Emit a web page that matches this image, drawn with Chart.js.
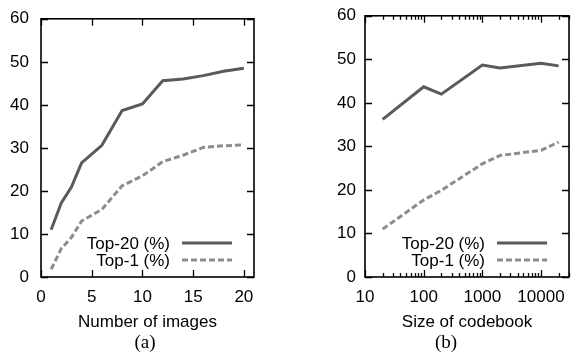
<!DOCTYPE html>
<html>
<head>
<meta charset="utf-8">
<script src="https://cdn.jsdelivr.net/npm/chart.js@4/dist/chart.umd.min.js"></script>
<style>
  body { margin: 0; background: #fff; width: 579px; height: 363px; position: relative; overflow: hidden; }
  canvas { position: absolute; top: 0; }
  #chartA { left: 0; }
  #chartB { left: 324px; }
  .cap { position: absolute; top: 331px; font-family: "Liberation Serif", "Times New Roman", serif; font-size: 19px; transform: translateX(-50%); }
</style>
</head>
<body>
<canvas id="chartA" width="270" height="340"></canvas>
<canvas id="chartB" width="255" height="340"></canvas>
<div class="cap" style="left:145px">(a)</div>
<div class="cap" style="left:446px">(b)</div>
<script>
// panel (a): number of images
const imagesX = [1, 2, 3, 4, 6, 8, 10, 12, 14, 16, 18, 20];
const imagesTop20 = [11.0, 17.2, 20.9, 26.5, 30.6, 38.7, 40.2, 45.6, 46.0, 46.8, 47.8, 48.5];
const imagesTop1 = [1.8, 6.6, 9.2, 13.0, 15.7, 21.2, 23.5, 26.8, 28.3, 30.1, 30.5, 30.7];
const imagesTicks = [0, 5, 10, 15, 20];

// panel (b): size of codebook
const codebookX = [20, 100, 200, 1000, 2000, 10000, 20000];
const codebookTop20 = [36.2, 43.7, 42.0, 48.7, 48.0, 49.1, 48.5];
const codebookTop1 = [11.0, 17.7, 19.9, 26.0, 27.9, 29.1, 31.0];
const codebookTicks = [10, 100, 1000, 10000];

const yTicks = [0, 10, 20, 30, 40, 50, 60];
const seriesLabels = ['Top-20 (%)', 'Top-1 (%)'];

Chart.defaults.font.family = '"Liberation Sans", Arial, sans-serif';
Chart.defaults.font.size = 17;
Chart.defaults.color = '#000';

const SOLID = '#5a5a5a';
const DASHED = '#8c8c8c';

// draws the box, inward mirrored ticks and the inside legend
const gnuplotLook = {
  id: 'gnuplotLook',
  afterDatasetsDraw(chart) {
    const ctx = chart.ctx;
    const a = chart.chartArea;
    const xs = chart.scales.x, ys = chart.scales.y;
    ctx.save();
    ctx.strokeStyle = '#000';
    ctx.lineWidth = 1.3;

    xs.ticks.forEach(t => {
      const len = t.major ? 7 : 4;
      const x = Math.round(xs.getPixelForValue(t.value)) + 0.5;
      ctx.beginPath();
      ctx.moveTo(x, a.bottom); ctx.lineTo(x, a.bottom - len);
      ctx.moveTo(x, a.top); ctx.lineTo(x, a.top + len);
      ctx.stroke();
    });
    ys.ticks.forEach(t => {
      const y = Math.round(ys.getPixelForValue(t.value)) + 0.5;
      ctx.beginPath();
      ctx.moveTo(a.left, y); ctx.lineTo(a.left + 7, y);
      ctx.moveTo(a.right, y); ctx.lineTo(a.right - 7, y);
      ctx.stroke();
    });

    ctx.lineWidth = 1.6;
    ctx.strokeRect(a.left, a.top, a.right - a.left, a.bottom - a.top);

    // legend
    ctx.font = '17px "Liberation Sans", Arial, sans-serif';
    ctx.textAlign = 'right';
    ctx.textBaseline = 'middle';
    ctx.fillStyle = '#000';
    chart.data.datasets.forEach((ds, i) => {
      const y = a.bottom - 34 + i * 17;
      ctx.fillText(ds.label, a.right - 84, y + 1);
      ctx.beginPath();
      ctx.strokeStyle = ds.borderColor;
      ctx.lineWidth = ds.borderWidth;
      ctx.setLineDash(ds.borderDash || []);
      ctx.moveTo(a.right - 72, y);
      ctx.lineTo(a.right - 22, y);
      ctx.stroke();
      ctx.setLineDash([]);
    });
    ctx.restore();
  }
};

function makeDatasets(xs, top20, top1) {
  return [
    { label: seriesLabels[0], data: xs.map((x, i) => ({ x: x, y: top20[i] })),
      borderColor: SOLID, borderWidth: 3, pointRadius: 0, tension: 0 },
    { label: seriesLabels[1], data: xs.map((x, i) => ({ x: x, y: top1[i] })),
      borderColor: DASHED, borderWidth: 3, borderDash: [6, 3], pointRadius: 0, tension: 0 }
  ];
}

function yScale(pad) {
  return {
    min: 0, max: 60,
    afterBuildTicks: s => { s.ticks = yTicks.map(v => ({ value: v })); },
    afterFit: s => { s.width = 41; },
    grid: { display: false, drawTicks: false },
    border: { display: false },
    ticks: { padding: pad, font: { lineHeight: 0.8 } }
  };
}

function baseOptions() {
  return {
    responsive: false,
    devicePixelRatio: 1,
    animation: false,
    layout: { padding: { top: 15, right: 0, left: 0, bottom: 0 } },
    plugins: { legend: { display: false }, tooltip: { enabled: false } }
  };
}

const optsA = baseOptions();
optsA.layout.padding.right = 16;
optsA.scales = {
  x: {
    type: 'linear', min: 0, max: 21,
    afterBuildTicks: s => { s.ticks = imagesTicks.map(v => ({ value: v, major: true })); },
    afterFit: s => { s.height = 63; },
    grid: { display: false, drawTicks: false },
    border: { display: false },
    ticks: { padding: 10, maxRotation: 0 },
    title: { display: true, text: 'Number of images', padding: { top: 0, bottom: 7 } }
  },
  y: yScale(12)
};

new Chart(document.getElementById('chartA'), {
  type: 'line',
  data: { datasets: makeDatasets(imagesX, imagesTop20, imagesTop1) },
  options: optsA,
  plugins: [gnuplotLook]
});

const optsB = baseOptions();
optsB.layout.padding.right = 1;
optsB.scales = {
  x: {
    type: 'logarithmic', min: 10, max: 30000,
    afterBuildTicks: s => {
      const t = [];
      for (let e = 1; e <= 4; e++) {
        for (let m = 1; m <= 9; m++) {
          const v = m * Math.pow(10, e);
          if (v <= 30000) t.push({ value: v, major: m === 1 });
        }
      }
      s.ticks = t;
    },
    afterFit: s => { s.height = 63; },
    grid: { display: false, drawTicks: false },
    border: { display: false },
    ticks: {
      padding: 10, maxRotation: 0, autoSkip: false,
      callback: v => codebookTicks.includes(v) ? String(v) : ''
    },
    title: { display: true, text: 'Size of codebook', padding: { top: 0, bottom: 7 } }
  },
  y: yScale(9)
};

new Chart(document.getElementById('chartB'), {
  type: 'line',
  data: { datasets: makeDatasets(codebookX, codebookTop20, codebookTop1) },
  options: optsB,
  plugins: [gnuplotLook]
});
</script>
</body>
</html>
